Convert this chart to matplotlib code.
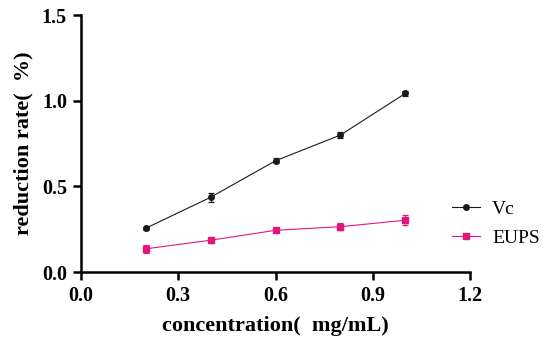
import matplotlib
matplotlib.use("Agg")
from matplotlib import pyplot as plt
from matplotlib.lines import Line2D

# donnees
conc = [0.2, 0.4, 0.6, 0.8, 1.0]
vc = [0.256, 0.437, 0.650, 0.800, 1.043]
vc_err = [0.010, 0.025, 0.015, 0.020, 0.015]
eups = [0.136, 0.186, 0.244, 0.265, 0.303]
eups_err = [0.025, 0.015, 0.010, 0.020, 0.030]

xticks = [0.0, 0.3, 0.6, 0.9, 1.2]
yticks = [0.0, 0.5, 1.0, 1.5]

serif = ['Liberation Serif', 'Noto Sans CJK SC']
pink = '#E0177A'
black = '#1a1a1a'

fig = plt.figure(figsize=(5.5, 3.44), dpi=100)
ax = fig.add_axes([0.147, 0.209, 0.708, 0.747])

ax.errorbar(conc, vc, yerr=vc_err, color=black, lw=0.8, marker='o',
            markersize=4, capsize=2, elinewidth=0.9, capthick=0.9)
ax.errorbar(conc, eups, yerr=eups_err, color=pink, lw=0.8, marker='s',
            markersize=4.5, capsize=2, elinewidth=0.9, capthick=0.9)

ax.set_xlim(0, 1.2)
ax.set_ylim(0, 1.5)
ax.set_xticks(xticks)
ax.set_yticks(yticks)
ax.set_xticklabels(['%.1f' % v for v in xticks], family=serif, fontweight='bold', fontsize=14.5)
ax.set_yticklabels(['%.1f' % v for v in yticks], family=serif, fontweight='bold', fontsize=14.5)

for s in ['top', 'right']:
  ax.spines[s].set_visible(False)
for s in ['left', 'bottom']:
  ax.spines[s].set_linewidth(1.8)
ax.tick_params(width=1.8, length=6, direction='out', pad=4)

ax.set_xlabel('concentration(  mg/mL)', family=serif, fontweight='bold', fontsize=16, labelpad=7)
ax.set_ylabel('reduction rate(  %)', family=serif, fontweight='bold', fontsize=16, labelpad=6)

handles = [Line2D([], [], color=black, lw=0.8, marker='o', markersize=4),
           Line2D([], [], color=pink, lw=0.8, marker='s', markersize=4.5)]
fig.legend(handles, ['Vc', 'EUPS'], loc='center left', bbox_to_anchor=(0.822, 0.35),
           frameon=False, borderpad=0, borderaxespad=0,
           prop={'family': serif, 'size': 14}, handlelength=1.45,
           labelspacing=0.6, handletextpad=0.6)

fig.savefig('out.png', dpi=100)
